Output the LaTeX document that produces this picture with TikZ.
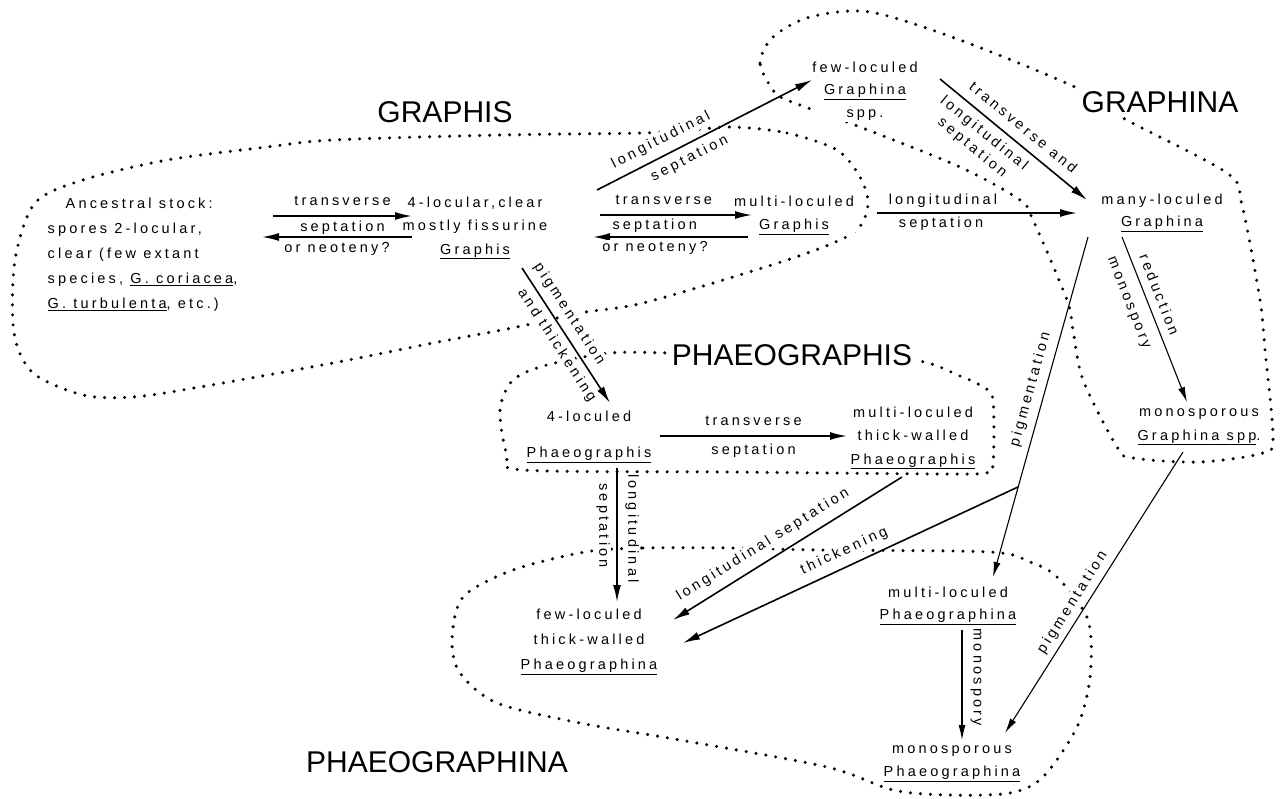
\documentclass[tikz,border=0pt]{standalone}
\usepackage{fontspec}
\setmainfont{Liberation Sans}
\newfontfamily\spaced[LetterSpace=22]{Liberation Sans}
\usetikzlibrary{arrows.meta}

\begin{document}
\begin{tikzpicture}[x=1pt,y=-1pt,
  every node/.style={font=\spaced\fontsize{14.5}{23.5}\selectfont,
    align=center, inner sep=1.5pt, fill=white},
  genus/.style={font=\fontsize{30}{36}\selectfont, inner sep=3pt},
  ontop/.style={sloped, above, outer ysep=#1},
  beneath/.style={sloped, below, outer ysep=#1},
  arr/.style={-{Latex[length=17pt,width=8pt]}, line width=1.6pt},
  thinarr/.style={-{Latex[length=15pt,width=7pt]}, line width=1.1pt},
  region/.style={dash pattern=on 0pt off 10pt, line cap=round, line width=3.4pt}
]
\useasboundingbox (0,0) rectangle (1281,798);

% dotted outlines of the four genera
\draw[region] plot[smooth cycle] coordinates {(733,127) (787,133) (837,150)
  (860,177) (868,205) (853,233) (787,260) (647,302) (580,313) (517,327)
  (433,343) (333,363) (200,387) (133,397) (83,395) (33,373) (14,333) (15,260)
  (35,203) (83,180) (167,160) (267,147) (333,140) (500,135) (643,133) (690,130)};
\draw[region] plot[smooth cycle] coordinates {(773,90) (760,63) (773,37)
  (810,17) (870,12) (960,40) (1077,88) (1123,118) (1227,173) (1242,205)
  (1260,300) (1265,350) (1273,437) (1263,453) (1200,462) (1133,458)
  (1117,447) (1083,380) (1073,330) (1067,300) (1033,220) (1020,200)
  (960,167) (860,127) (787,100)};
\draw[region] plot[smooth cycle] coordinates {(610,353) (673,353) (792,355)
  (913,360) (960,376) (983,387) (993,400) (993,465) (985,473) (940,474)
  (730,472) (523,470) (507,455) (500,410) (513,380) (547,365)};
\draw[region] plot[smooth cycle] coordinates {(585,552) (643,548) (730,548)
  (820,550) (990,552) (1030,562) (1057,577) (1088,620) (1090,677) (1077,727)
  (1043,777) (1010,793) (950,795) (893,790) (827,767) (680,740) (580,723)
  (497,703) (460,673) (452,640) (463,597) (513,570)};

\node[genus] (graphis) at (445,112) {GRAPHIS};
\node[genus] (graphina) at (1160,102) {GRAPHINA};
\node[genus] (phaeographis) at (792,355) {PHAEOGRAPHIS};
\node[genus] (phaeographina) at (437,762) {PHAEOGRAPHINA};

\node[anchor=west, align=left, font=\spaced\fontsize{14.5}{25}\selectfont] (anc) at (46,255)
  {\hspace*{18pt}Ancestral stock:\\spores 2-locular,\\clear (few extant\\
   species, \underline{G. coriacea},\\\underline{G. turbulenta}, etc.)};
\node (loc4) at (475,228) {4-locular,clear\\mostly fissurine\\\underline{Graphis}};
\node (mgr) at (794,215) {multi-loculed\\\underline{Graphis}};
\node[font=\spaced\fontsize{14.5}{22.5}\selectfont] (fgs) at (865,91)
  {few-loculed\\\underline{Graphina}\\spp.};
\node[font=\spaced\fontsize{14.5}{22}\selectfont] (mlg) at (1162,213)
  {many-loculed\\\underline{Graphina}};
\node (msg) at (1199,427) {monosporous\\\underline{Graphina spp}.};
\node (fp) at (589,437) {4-loculed\\[12.5pt]\underline{Phaeographis}};
\node (mp) at (913,438) {multi-loculed\\thick-walled\\\underline{Phaeographis}};
\node[font=\spaced\fontsize{14.5}{25}\selectfont] (ftp) at (589,642)
  {few-loculed\\thick-walled\\\underline{Phaeographina}};
\node[font=\spaced\fontsize{14.5}{22}\selectfont] (mlp) at (948,606)
  {multi-loculed\\\underline{Phaeographina}};
\node[font=\spaced\fontsize{14.5}{23}\selectfont] (msp) at (952,764)
  {monosporous\\\underline{Phaeographina}};

\draw[arr] ([shift={(227,-39)}]anc.west) -- ([shift={(-63,-12)}]loc4.center)
  node[midway, above=8pt] {transverse} node[midway, below=3pt] {septation};
\draw[arr] ([shift={(-63,9)}]loc4.center) -- ([shift={(216,-18)}]anc.west)
  node[midway, below=3pt] {or neoteny?};
\draw[arr] ([shift={(125,-13)}]loc4.center) -- ([shift={(-42,0)}]mgr.center)
  node[pos=.42, above=8pt] {transverse} node[pos=.36, below=2pt] {septation};
\draw[arr] ([shift={(-46,22)}]mgr.center) -- ([shift={(118,9)}]loc4.center)
  node[pos=.6, below=2pt] {or neoteny?};
\draw[arr] ([shift={(122,-38)}]loc4.center) -- ([shift={(-53,-11)}]fgs.center)
  node[pos=.33, ontop=7pt] {longitudinal}
  node[pos=.4, beneath=6pt] {septation};
\draw[arr] ([shift={(83,-2)}]mgr.center) -- ([shift={(-85,0)}]mlg.center)
  node[pos=.33, above=3pt] {longitudinal} node[pos=.32, below=2pt] {septation};
\draw[arr] ([shift={(75,-12)}]fgs.center) -- ([shift={(-75,-13)}]mlg.center)
  node[pos=.5, ontop=9pt] {transverse and}
  node[pos=.36, beneath=6pt] {longitudinal\\[-5pt]septation};
\draw[thinarr] ([shift={(-40,24)}]mlg.center) -- ([shift={(-12,-25)}]msg.center)
  node[pos=.38, ontop=7pt] {reduction}
  node[pos=.36, beneath=12pt] {monospory};
\draw[thinarr] ([shift={(-74,24)}]mlg.center) -- coordinate[pos=.735] (kink)
  ([shift={(45,-29)}]mlp.center) node[pos=.46, ontop=6pt] {pigmentation};
\draw[arr] (kink) -- ([shift={(94,1)}]ftp.center)
  node[pos=.5, ontop=7pt] {thickening};
\draw[arr] ([shift={(-11,39)}]mp.center) -- ([shift={(84,-22)}]ftp.center)
  node[pos=.57, ontop=8pt] {longitudinal septation};
\draw[arr] ([shift={(47,40)}]loc4.center) -- ([shift={(21,-34)}]fp.center)
  node[pos=.4, ontop=6pt] {pigmentation}
  node[pos=.52, beneath=5pt] {and thickening};
\draw[arr] ([shift={(71,-1)}]fp.center) -- ([shift={(-66,-2)}]mp.center)
  node[midway, above=8pt] {transverse} node[midway, below=6pt] {septation};
\draw[arr] ([shift={(28,31)}]fp.center) -- ([shift={(28,-40)}]ftp.center)
  node[pos=.43, xshift=-14pt, rotate=-90] {septation}
  node[pos=.45, xshift=15pt, rotate=-90] {longitudinal};
\draw[thinarr] ([shift={(14,24)}]mlp.center) -- ([shift={(10,-24)}]msp.center)
  node[pos=.43, xshift=14pt, rotate=-90] {monospory};
\draw[thinarr] ([shift={(-16,25)}]msg.center) -- ([shift={(53,-31)}]msp.center)
  node[pos=.56, ontop=4.5pt] {pigmentation};
\end{tikzpicture}
\end{document}
